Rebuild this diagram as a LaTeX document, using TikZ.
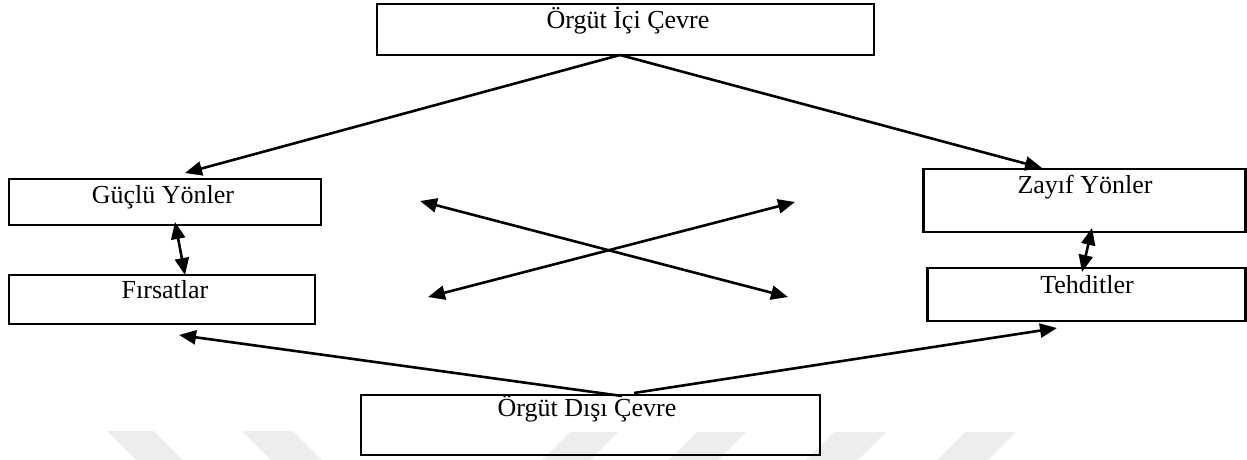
\documentclass[tikz,border=0pt]{standalone}
\usepackage{fontspec}
\setmainfont{Liberation Serif}
\usetikzlibrary{arrows.meta}
\begin{document}
\begin{tikzpicture}[x=1pt,y=-1pt,
  box/.style={draw=black,line width=2.6pt,inner sep=0pt},
  lbl/.style={anchor=base,inner sep=0pt,font=\fontsize{26}{30}\selectfont},
  conn/.style={line width=2.6pt,-{Triangle[length=17pt,width=14pt]}},
  both/.style={line width=2.6pt,{Triangle[length=17pt,width=14pt]}-{Triangle[length=17pt,width=14pt]}},
  wmark/.style={fill=black!7,draw=none}]
\useasboundingbox (0,0) rectangle (1247,460);
% faint background chevrons
\begin{scope}
\clip (0,0) rectangle (1247,460);
\fill[wmark] (107,431) -- (154,431) -- (183,460) -- (136,460) -- cycle;
\fill[wmark] (242,431) -- (293,431) -- (322,460) -- (271,460) -- cycle;
\fill[wmark] (570,432) -- (618,432) -- (590,460) -- (542,460) -- cycle;
\fill[wmark] (697,432) -- (746,432) -- (718,460) -- (669,460) -- cycle;
\fill[wmark] (834,432) -- (886,432) -- (858,460) -- (806,460) -- cycle;
\fill[wmark] (965,432) -- (1016,432) -- (988,460) -- (937,460) -- cycle;
\end{scope}
% boxes
\node[box,minimum width=497pt,minimum height=51pt] (ic) at (625.5,29.5) {};
\node[box,minimum width=312pt,minimum height=46pt] (gy) at (165,202) {};
\node[box,minimum width=306pt,minimum height=49pt] (fr) at (162,299.5) {};
\node[box,minimum width=322pt,minimum height=63pt] (zy) at (1084.5,200.5) {};
\node[box,minimum width=318pt,minimum height=53pt] (te) at (1086.5,294.5) {};
\node[box,minimum width=459pt,minimum height=60pt] (di) at (590.5,425) {};
% labels
\node[lbl] (icl) at (628,29) {Örgüt İçi Çevre};
\node[lbl] (gyl) at (163,203) {Güçlü Yönler};
\node[lbl] (frl) at (165,298) {Fırsatlar};
\node[lbl] (zyl) at (1085,193) {Zayıf Yönler};
\node[lbl] (tel) at (1087,293) {Tehditler};
\node[lbl] (dil) at (587,416) {Örgüt Dışı Çevre};
% connector end points
\coordinate (icapex) at (620,55);
\coordinate (gytip) at (185,173);
\coordinate (zytip) at (1042,168);
\coordinate (gybot) at (175,222);
\coordinate (frtop) at (185,275);
\coordinate (zybot) at (1092,228);
\coordinate (tetop) at (1082,272);
\coordinate (x1a) at (420,201);
\coordinate (x1b) at (788,297);
\coordinate (x2a) at (428,297);
\coordinate (x2b) at (795,202);
\coordinate (dil1) at (622,396);
\coordinate (dir1) at (634,393);
\coordinate (frbot) at (179,335);
\coordinate (tebot) at (1057,328);
% connectors
\draw[conn] (icapex) -- (gytip);
\draw[conn] (icapex) -- (zytip);
\draw[both] (gybot) -- (frtop);
\draw[both] (zybot) -- (tetop);
\draw[both] (x1a) -- (x1b);
\draw[both] (x2a) -- (x2b);
\draw[conn] (dil1) -- (frbot);
\draw[conn] (dir1) -- (tebot);
\end{tikzpicture}
\end{document}
